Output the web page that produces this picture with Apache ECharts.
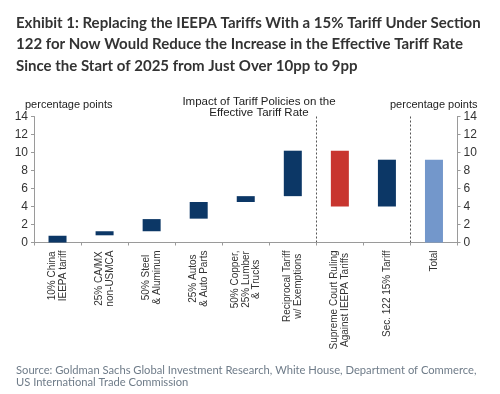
<!DOCTYPE html>
<html>
<head>
<meta charset="utf-8">
<script src="https://cdn.jsdelivr.net/npm/echarts@6/dist/echarts.min.js"></script>
<style>
html,body{margin:0;padding:0;background:#fff;}
#c{width:500px;height:394px;}
</style>
</head>
<body>
<div id="c"></div>
<script>
// ---- data ----
var categories = [
  "10% China\nIEEPA tariff",
  "25% CA/MX\nnon-USMCA",
  "50% Steel\n& Aluminum",
  "25% Autos\n& Auto Parts",
  "50% Copper,\n25% Lumber\n& Trucks",
  "Reciprocal Tariff\nw/ Exemptions",
  "Supreme Court Ruling\nAgainst IEEPA Tariffs",
  "Sec. 122 15% Tariff",
  "Total"
];
var lowValues  = [0,    0.8,  1.25, 2.65, 4.5,  5.15, 4.0,  4.0, 0];
var highValues = [0.75, 1.25, 2.6,  4.5,  5.15, 10.2, 10.2, 9.2, 9.2];
var yTicks = [0, 2, 4, 6, 8, 10, 12, 14];

// ---- styles ----
var barColors = ["#0c3766","#0c3766","#0c3766","#0c3766","#0c3766","#0c3766","#c8352f","#0c3766","#7397cb"];
var axisColor = "#9a9a9a";
var labelFont = "'Liberation Sans', Arial, sans-serif";

var chart = echarts.init(document.getElementById('c'), null, {renderer:'canvas'});
var diffs = highValues.map(function(h,i){ return +(h - lowValues[i]).toFixed(4); });

var yAxisBase = {
  type:'value', min: yTicks[0], max: yTicks[yTicks.length-1], interval: 2,
  axisLine:{show:true, lineStyle:{color:axisColor, width:1}},
  axisTick:{show:true, length:3, lineStyle:{color:axisColor}},
  splitLine:{show:false},
  axisLabel:{color:'#333', fontSize:12, fontFamily:labelFont, margin:6}
};

chart.setOption({
  animation:false,
  backgroundColor:'#fff',
  title:[{
    text:'Exhibit 1: Replacing the IEEPA Tariffs With a 15% Tariff Under Section\n122 for Now Would Reduce the Increase in the Effective Tariff Rate\nSince the Start of 2025 from Just Over 10pp to 9pp',
    left:11, top:7,
    textStyle:{fontFamily:'Lato, sans-serif', fontWeight:'bold', fontSize:15, color:'#333', lineHeight:21.5}
  },{
    text:'Impact of Tariff Policies on the\nEffective Tariff Rate',
    left:254, top:91, textAlign:'center',
    textStyle:{fontFamily:labelFont, fontWeight:'normal', fontSize:11.5, color:'#222', lineHeight:11.5}
  },{
    text:'percentage points',
    left:20, top:94,
    textStyle:{fontFamily:labelFont, fontWeight:'normal', fontSize:11, color:'#222'}
  },{
    text:'percentage points',
    left:385, top:94,
    textStyle:{fontFamily:labelFont, fontWeight:'normal', fontSize:11, color:'#222'}
  },{
    text:'Source: Goldman Sachs Global Investment Research, White House, Department of Commerce,\nUS International Trade Commission',
    left:11, top:359,
    textStyle:{fontFamily:'Lato, sans-serif', fontWeight:'normal', fontSize:11.2, color:'#6f7c89', lineHeight:12}
  }],
  grid:{left:34, right:42.5, top:116.5, bottom:151.5, containLabel:false},
  xAxis:{
    type:'category', data:categories, boundaryGap:true,
    axisLine:{show:true, lineStyle:{color:axisColor}},
    axisTick:{show:true, length:3, inside:false, lineStyle:{color:axisColor}},
    splitLine:{show:true, interval:function(i){ return i===6 || i===8; },
      lineStyle:{color:'#555', type:[2,2], width:1}},
    axisLabel:{interval:0, rotate:90, fontSize:10, lineHeight:10.5, color:'#333', fontFamily:labelFont, margin:8,
      formatter:function(v){ return v.split('\n').map(function(s){ return '{c|' + s + '}'; }).join('\n'); },
      rich:{c:{align:'center', fontSize:10, lineHeight:10.5, color:'#333', fontFamily:labelFont}}
    }
  },
  yAxis:[
    Object.assign({}, yAxisBase, {position:'left'}),
    Object.assign({}, yAxisBase, {position:'right'})
  ],
  series:[{
    type:'bar', stack:'w', data:lowValues, barWidth:18, silent:true,
    itemStyle:{color:'rgba(0,0,0,0)'}
  },{
    type:'bar', stack:'w', barWidth:18,
    data:diffs.map(function(v,i){ return {value:v, itemStyle:{color:barColors[i]}}; })
  }]
});
</script>
</body>
</html>
